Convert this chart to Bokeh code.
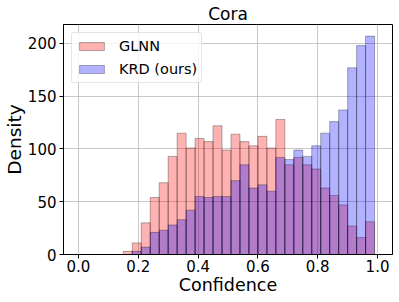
import numpy as np
from bokeh.plotting import figure
from bokeh.models import Range1d, FixedTicker, Legend, LegendItem, ColumnDataSource
from bokeh.embed import file_html
from bokeh.resources import INLINE

# Bin edges (confidence) shared by both histograms
bin_edges = [0.15, 0.18, 0.21, 0.24, 0.27, 0.30, 0.33, 0.36, 0.39, 0.42,
             0.45, 0.48, 0.51, 0.54, 0.57, 0.60, 0.63, 0.66, 0.69, 0.72,
             0.75, 0.78, 0.81, 0.84, 0.87, 0.90, 0.93, 0.96, 0.99]

glnn_counts = [3, 11, 30, 54, 68, 93, 115, 101, 110, 107, 122, 99, 114, 107,
               103, 112, 101, 128, 85, 92, 85, 81, 63, 56, 47, 27, 16, 31]
krd_counts = [0, 3, 7, 21, 23, 28, 33, 42, 55, 54, 55, 55, 70, 85,
              63, 66, 60, 92, 90, 99, 93, 103, 115, 126, 137, 177, 198, 207]

x_ticks = [0.0, 0.2, 0.4, 0.6, 0.8, 1.0]
y_ticks = [0, 50, 100, 150, 200]

FONT = "DejaVu Sans"

p = figure(width=399, height=302, output_backend="svg", toolbar_location=None,
           x_range=Range1d(-0.05, 1.05), y_range=Range1d(0, 218),
           min_border_left=61, min_border_right=7, min_border_top=24, min_border_bottom=48)

src_g = ColumnDataSource(dict(left=bin_edges[:-1], right=bin_edges[1:],
                              top=glnn_counts, bottom=[0] * len(glnn_counts)))
src_k = ColumnDataSource(dict(left=bin_edges[:-1], right=bin_edges[1:],
                              top=krd_counts, bottom=[0] * len(krd_counts)))

r_g = p.quad(left="left", right="right", top="top", bottom="bottom", source=src_g,
             fill_color="red", fill_alpha=0.3, line_color="black", line_alpha=0.3, line_width=1)
r_k = p.quad(left="left", right="right", top="top", bottom="bottom", source=src_k,
             fill_color="blue", fill_alpha=0.3, line_color="black", line_alpha=0.3, line_width=1)

legend = Legend(items=[LegendItem(label="GLNN", renderers=[r_g]),
                       LegendItem(label="KRD (ours)", renderers=[r_k])],
                location="top_left")
legend.margin = 8
legend.padding = 4
legend.spacing = 5
legend.label_height = 18
legend.glyph_height = 10
legend.glyph_width = 31
legend.label_standoff = 12
legend.label_text_font = FONT
legend.label_text_font_size = "14.5px"
legend.label_text_color = "black"
legend.border_line_color = "#cccccc"
legend.border_line_width = 1
legend.background_fill_alpha = 0.8
try:
    legend.border_radius = 3
except Exception:
    pass
p.add_layout(legend)

p.title.text = "Cora"
p.title.align = "center"
p.title.text_font = FONT
p.title.text_font_size = "17px"
p.title.text_font_style = "normal"
p.title.text_color = "black"
p.title.offset = 0
p.title.standoff = 1

p.xaxis.ticker = FixedTicker(ticks=x_ticks)
p.yaxis.ticker = FixedTicker(ticks=y_ticks)
p.xaxis.major_label_overrides = {t: f"{t:.1f}" for t in x_ticks}
p.xaxis.axis_label = "Confidence"
p.yaxis.axis_label = "Density"
for ax in (p.xaxis, p.yaxis):
    ax.axis_label_text_font = FONT
    ax.axis_label_text_font_size = "17.5px"
    ax.axis_label_text_font_style = "normal"
    ax.axis_label_text_color = "black"
    ax.major_label_text_font = FONT
    ax.major_label_text_font_size = "15px"
    ax.major_label_text_color = "black"
    ax.axis_line_color = "black"
    ax.major_tick_line_color = "black"
    ax.major_tick_out = 4
    ax.major_tick_in = 0
    ax.minor_tick_line_color = None
    ax.axis_label_standoff = 0
p.yaxis.axis_label_text_font_size = "18.5px"
p.xaxis.major_label_standoff = 1
p.yaxis.major_label_standoff = 3

p.outline_line_color = "black"
p.outline_line_alpha = 1
p.xgrid.grid_line_color = "#b0b0b0"
p.ygrid.grid_line_color = "#b0b0b0"
p.xgrid.grid_line_alpha = 0.7
p.ygrid.grid_line_alpha = 0.7
p.background_fill_color = "white"
p.border_fill_color = "white"

open("out.html", "w").write(file_html(p, INLINE))
